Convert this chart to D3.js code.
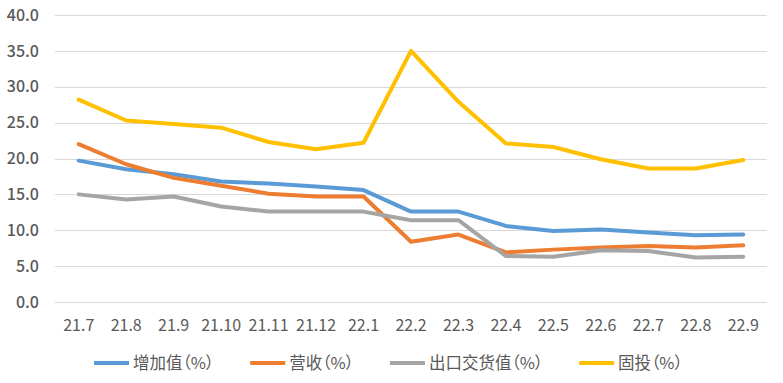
<!DOCTYPE html>
<html>
<head>
<meta charset="utf-8">
<script src="https://cdn.jsdelivr.net/npm/d3@7/dist/d3.min.js"></script>
<style>
  html, body { margin: 0; padding: 0; background: #fff; }
  svg { display: block; }
  text { font-family: "Noto Sans CJK SC", "Noto Sans", sans-serif; }
  .legend-text { font-feature-settings: "palt" 1; }
</style>
</head>
<body>
<svg id="chart" width="783" height="383"></svg>
<script>
const categories = ["21.7","21.8","21.9","21.10","21.11","21.12","22.1","22.2","22.3","22.4","22.5","22.6","22.7","22.8","22.9"];
const valueAdded = [19.7,18.5,17.8,16.8,16.5,16.1,15.6,12.6,12.6,10.6,9.9,10.1,9.7,9.3,9.4];
const revenue    = [22.0,19.2,17.3,16.2,15.1,14.7,14.7,8.4,9.4,6.9,7.3,7.6,7.8,7.6,7.9];
const exportVal  = [15.0,14.3,14.7,13.3,12.6,12.6,12.6,11.4,11.4,6.4,6.3,7.2,7.1,6.2,6.3];
const fixedInv   = [28.2,25.3,24.8,24.3,22.3,21.3,22.2,35.0,27.9,22.1,21.6,19.9,18.6,18.6,19.8];
const yTicks = [0,5,10,15,20,25,30,35,40];
const seriesNames = ["增加值（%）","营收（%）","出口交货值（%）","固投（%）"];
const seriesColors = ["#5B9BD5","#ED7D31","#A5A5A5","#FFC000"];
const seriesData = [valueAdded, revenue, exportVal, fixedInv];

(function () {
const svg = d3.select("#chart");
const pLeft = 55, pRight = 767, pTop = 15, pBottom = 302;

const x = d3.scaleBand().domain(categories).range([pLeft, pRight]).padding(0);
const y = d3.scaleLinear().domain([0, 40]).range([pBottom, pTop]);

// gridlines
svg.append("g").selectAll("line").data(yTicks).join("line")
  .attr("x1", pLeft).attr("x2", pRight)
  .attr("y1", d => Math.round(y(d)) + 0.5).attr("y2", d => Math.round(y(d)) + 0.5)
  .attr("stroke", "#D9D9D9").attr("stroke-width", 1);

// y axis labels
const yAxis = d3.axisLeft(y).tickValues(yTicks).tickFormat(d3.format(".1f")).tickSize(0).tickPadding(0);
const gy = svg.append("g").attr("transform", "translate(39,0)").call(yAxis);
gy.select(".domain").remove();
gy.selectAll("text").attr("fill", "#595959").style("font-size", "16px")
  .style("font-family", '"Noto Sans CJK SC", sans-serif').style("font-weight", "500");

// x axis labels
const xAxis = d3.axisBottom(x).tickSize(0).tickPadding(0);
const gx = svg.append("g").attr("transform", "translate(0,323)").call(xAxis);
gx.select(".domain").remove();
gx.selectAll("text").attr("fill", "#595959").style("font-size", "16px")
  .style("font-family", '"Noto Sans CJK SC", sans-serif').attr("dy", "0.5em").attr("y", 0);

// lines
const line = d3.line().x((d, i) => x(categories[i]) + x.bandwidth() / 2).y(d => y(d));
seriesData.forEach((arr, k) => {
  svg.append("path").datum(arr)
    .attr("d", line)
    .attr("fill", "none")
    .attr("stroke", seriesColors[k])
    .attr("stroke-width", 4)
    .attr("stroke-linejoin", "round")
    .attr("stroke-linecap", "round");
});

// legend
const lg = svg.append("g");
let cx = 0;
seriesNames.forEach((name, k) => {
  const g = lg.append("g").attr("transform", `translate(${cx},0)`);
  g.append("line").attr("x1", 0).attr("x2", 35).attr("y1", 0).attr("y2", 0)
    .attr("stroke", seriesColors[k]).attr("stroke-width", 4);
  const t = g.append("text").attr("class", "legend-text").attr("x", 39).attr("y", 0).attr("dy", "0.35em")
    .attr("fill", "#595959").style("font-size", "16.5px").text(name);
  const w = t.node().getComputedTextLength();
  cx += 39 + w + 36;
});
const totalW = cx - 36;
lg.attr("transform", `translate(${Math.round(388 - totalW / 2)},363)`);
})();
</script>
</body>
</html>
